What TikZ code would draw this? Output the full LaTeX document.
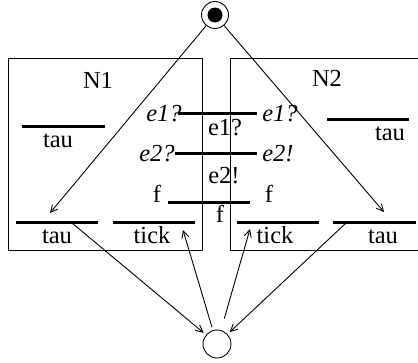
\documentclass[tikz,border=0pt]{standalone}
\usepackage{fontspec}
\setmainfont{Liberation Serif}
\usetikzlibrary{arrows.meta}

\begin{document}
\begin{tikzpicture}[x=1pt, y=-1pt, line width=0.9pt,
    >={Straight Barb[length=7pt,width=7pt]},
    every node/.style={font=\fontsize{24.5}{28}\selectfont, inner sep=0pt},
    txt/.style={anchor=base},
    place/.style={draw, circle, minimum size=#1},
    trans/.style={fill, minimum height=3pt, minimum width=#1}]
    \useasboundingbox (0,0) rectangle (418,362);

    % Draw the two nets
    \draw (8,58) rectangle (202,250);
    \draw (230,58) rectangle (425,250);
    \node[txt] (n1) at (98,88) {N1};
    \node[txt] (n2) at (327,86) {N2};

    % Places: marked one on top, empty one below
    \node[place=27] (m0) at (215,15) {};
    \fill (m0) circle (7.5pt);
    \node[place=28] (m1) at (217,344) {};

    % Transitions of N1 and N2
    \node[trans=83] (tau1) at (63.5,126) {};
    \node[txt] (tau1l) at (58,147) {tau};
    \node[trans=82] (tau2) at (368,119) {};
    \node[txt] (tau2l) at (390,140) {tau};
    \node[trans=82] (tau3) at (57,222) {};
    \node[txt] (tau3l) at (57,243) {tau};
    \node[trans=82] (tick1) at (154,222) {};
    \node[txt] (tick1l) at (152,243) {tick};
    \node[trans=82] (tick2) at (278,222) {};
    \node[txt] (tick2l) at (275,243) {tick};
    \node[trans=83] (tau4) at (374.5,222) {};
    \node[txt] (tau4l) at (383,243) {tau};

    % Synchronised transitions
    \node[trans=79] (e1) at (217.5,113) {};
    \node[txt] (e1a) at (164,121) {\textit{e1?}};
    \node[txt] (e1b) at (280,121) {\textit{e1?}};
    \node[txt] (e1l) at (225,135) {e1?};
    \node[trans=82] (e2) at (216,153) {};
    \node[txt] (e2a) at (157,161) {\textit{e2?}};
    \node[txt] (e2b) at (278,161) {\textit{e2!}};
    \node[txt] (e2l) at (224,183) {e2!};
    \node[trans=82] (f) at (209,202) {};
    \node[txt] (fa) at (157,202) {f};
    \node[txt] (fb) at (269,202) {f};
    \node[txt] (fl) at (220,222) {f};

    % Arcs
    \coordinate (a1) at (50,213);
    \coordinate (a2) at (384,212);
    \coordinate (a3) at (183,230);
    \coordinate (a4) at (250,229);
    \coordinate (s1) at (72,223);
    \coordinate (s2) at (346,223);
    \draw[->] (m0) -- (a1);
    \draw[->] (m0) -- (a2);
    \draw[->, shorten >=3pt] (s1) -- (m1);
    \draw[->, shorten >=3pt] (s2) -- (m1);
    \draw[->, shorten <=3pt] (m1) -- (a3);
    \draw[->, shorten <=12pt] (m1) -- (a4);
\end{tikzpicture}
\end{document}
